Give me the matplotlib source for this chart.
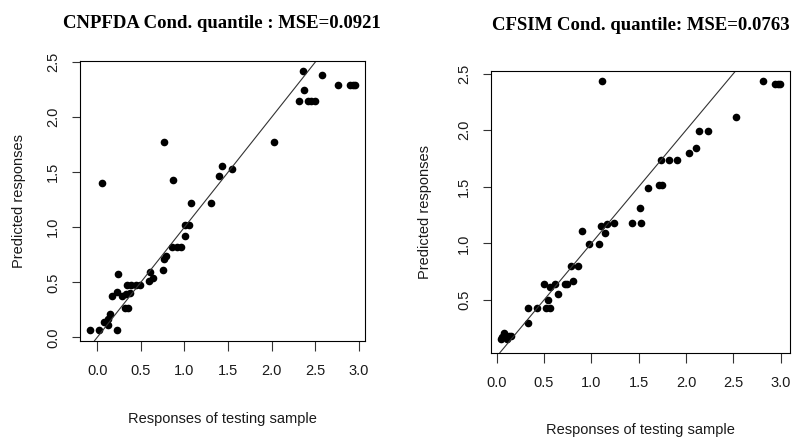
import matplotlib
matplotlib.use("Agg")
import matplotlib.pyplot as plt
import numpy as np

plt.rcParams['font.family'] = ['Liberation Sans', 'DejaVu Sans']

# ---- data ----
cnpfda_x = [2.36, 2.58, 2.76, 2.90, 2.93, 2.95, 2.37, 2.31, 2.42, 2.45, 2.50,
            0.77, 2.03, 0.05, 0.87, 1.43, 1.55, 1.40, 1.08, 1.31,
            1.01, 1.05, 1.01, 0.86, 0.91, 0.96, 0.79, 0.77, 0.76,
            0.61, 0.64, 0.59, 0.24, 0.34, 0.39, 0.44, 0.49,
            0.17, 0.23, 0.28, 0.33, 0.38, 0.32, 0.35,
            0.15, 0.13, 0.08, 0.12, -0.08, 0.02, 0.23]
cnpfda_y = [2.42, 2.38, 2.29, 2.29, 2.29, 2.29, 2.25, 2.15, 2.15, 2.15, 2.15,
            1.77, 1.77, 1.40, 1.43, 1.56, 1.53, 1.47, 1.22, 1.22,
            1.02, 1.02, 0.92, 0.82, 0.82, 0.82, 0.74, 0.71, 0.61,
            0.59, 0.54, 0.51, 0.58, 0.475, 0.475, 0.475, 0.475,
            0.375, 0.41, 0.375, 0.39, 0.405, 0.27, 0.27,
            0.21, 0.17, 0.14, 0.11, 0.07, 0.07, 0.07]

cfsim_x = [1.11, 2.81, 2.94, 2.97, 2.99, 2.53, 2.14, 2.23, 2.11, 2.03,
           1.74, 1.82, 1.91, 1.72, 1.75, 1.60, 1.51, 1.43, 1.53,
           1.24, 1.165, 1.10, 1.14, 0.90, 0.97, 1.08, 0.79, 0.86,
           0.81, 0.72, 0.74, 0.50, 0.56, 0.62, 0.65, 0.54,
           0.33, 0.43, 0.52, 0.56, 0.33,
           0.08, 0.13, 0.15, 0.04, 0.11, 0.06]
cfsim_y = [2.44, 2.44, 2.41, 2.41, 2.41, 2.12, 1.99, 1.99, 1.84, 1.80,
           1.74, 1.74, 1.74, 1.52, 1.52, 1.49, 1.31, 1.18, 1.18,
           1.18, 1.17, 1.15, 1.09, 1.11, 0.99, 0.99, 0.80, 0.80,
           0.67, 0.64, 0.64, 0.64, 0.61, 0.64, 0.55, 0.50,
           0.43, 0.43, 0.43, 0.43, 0.30,
           0.21, 0.18, 0.18, 0.15, 0.15, 0.17]

xticks = [0.0, 0.5, 1.0, 1.5, 2.0, 2.5, 3.0]
yticks_left = [0.0, 0.5, 1.0, 1.5, 2.0, 2.5]
yticks_right = [0.5, 1.0, 1.5, 2.0, 2.5]

titles = ["CNPFDA Cond. quantile : MSE=0.0921", "CFSIM Cond. quantile: MSE=0.0763"]
xlabel = "Responses of testing sample"
ylabel = "Predicted responses"

W, H = 796, 437
fig = plt.figure(figsize=(W / 100, H / 100), dpi=100)

def frac(l, r, t, b):
    return [l / W, 1 - b / H, (r - l) / W, (b - t) / H]

specs = [
    dict(rect=frac(79.7, 365, 61, 340.7), x=cnpfda_x, y=cnpfda_y,
         xlim=(-0.2, 3.07), ylim=(-0.03, 2.51), yt=yticks_left, title=titles[0],
         xl_y=-0.28, yl_x=-0.2145, title_y=1.0 + (61 - 23) / 279.7),
    dict(rect=frac(490.7, 790, 70.7, 352.7), x=cfsim_x, y=cfsim_y,
         xlim=(-0.064, 3.10), ylim=(0.033, 2.527), yt=yticks_right, title=titles[1],
         xl_y=-0.275, yl_x=(425 - 490.7) / 299.3, title_y=1.0 + (70.7 - 26) / 282),
]

txtc = '#1a1a1a'
for s in specs:
    ax = fig.add_axes(s['rect'])
    ax.plot(s['x'], s['y'], 'o', color='black', markersize=5.5, markeredgewidth=0)
    ax.axline((0, 0), slope=1, color='#333333', lw=0.8)
    ax.set_xlim(*s['xlim'])
    ax.set_ylim(*s['ylim'])
    ax.set_xticks(xticks)
    ax.set_xticklabels([f"{v:.1f}" for v in xticks])
    ax.set_yticks(s['yt'])
    ax.set_yticklabels([f"{v:.1f}" for v in s['yt']], rotation=90, va='center')
    ax.tick_params(axis='x', direction='out', length=7.5, width=0.8, pad=9.5,
                   labelsize=10.5, labelcolor=txtc, color='#333333')
    ax.tick_params(axis='y', direction='out', length=6, width=0.8, pad=8,
                   labelsize=10.5, labelcolor=txtc, color='#333333')
    for sp in ax.spines.values():
        sp.set_color('black')
        sp.set_linewidth(0.8)
    ax.set_xlabel(xlabel, fontsize=10.5, color=txtc, va='center')
    ax.xaxis.set_label_coords(0.5, s['xl_y'])
    ax.set_ylabel(ylabel, fontsize=10.5, color=txtc, va='center')
    ax.yaxis.set_label_coords(s['yl_x'], 0.5)
    ax.text(0.5, s['title_y'], s['title'], transform=ax.transAxes,
            ha='center', va='center', fontsize=13.5, fontweight='bold',
            family=['Liberation Serif', 'DejaVu Serif'], color='black')

fig.savefig("out.png", dpi=100)
